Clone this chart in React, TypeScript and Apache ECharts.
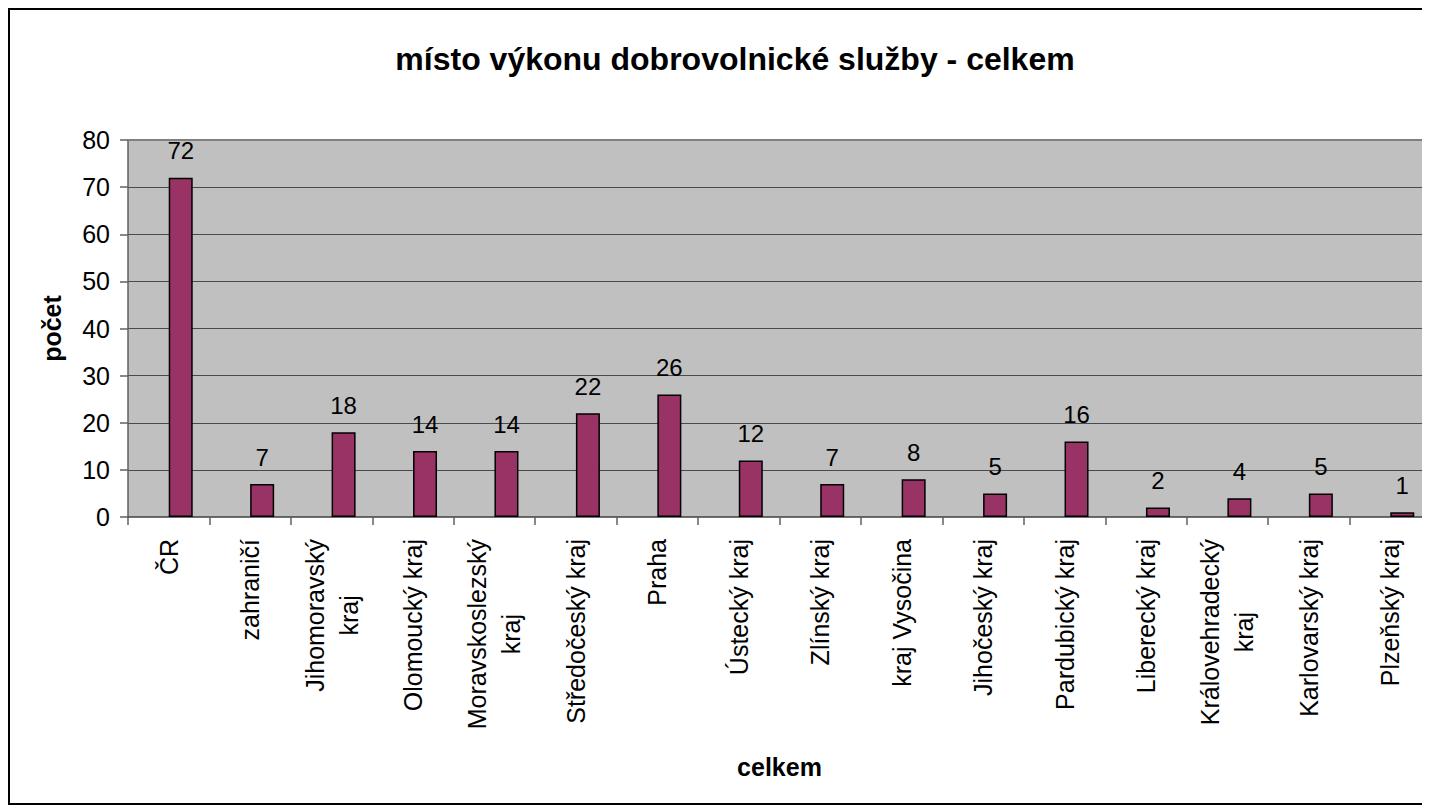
import React, { useEffect, useRef } from "react";
import * as echarts from "echarts";

const title = "místo výkonu dobrovolnické služby - celkem";
const yAxisName = "počet";
const xAxisName = "celkem";
const categories = [
  "ČR",
  "zahraničí",
  "Jihomoravský\nkraj",
  "Olomoucký kraj",
  "Moravskoslezský\nkraj",
  "Středočeský kraj",
  "Praha",
  "Ústecký kraj",
  "Zlínský kraj",
  "kraj Vysočina",
  "Jihočeský kraj",
  "Pardubický kraj",
  "Liberecký kraj",
  "Královehradecký\nkraj",
  "Karlovarský kraj",
  "Plzeňský kraj",
];
const emptyValues: (number | null)[] = categories.map(() => null);
const values = [72, 7, 18, 14, 14, 22, 26, 12, 7, 8, 5, 16, 2, 4, 5, 1];

const FONT = "'Liberation Sans', Arial, sans-serif";

if (typeof document !== "undefined") {
  document.documentElement.style.overflow = "hidden";
  document.body.style.overflow = "hidden";
}

export default function App() {
  const ref = useRef<HTMLDivElement>(null);
  useEffect(() => {
    const chart = echarts.init(ref.current!, null, { renderer: "svg" });
    chart.setOption({
      animation: false,
      textStyle: { fontFamily: FONT },
      title: {
        text: title,
        left: 722,
        top: 30,
        textAlign: "center",
        textStyle: { fontFamily: FONT, fontSize: 32, fontWeight: "bold", color: "#000" },
      },
      graphic: [
        {
          type: "polyline",
          shape: { points: [[1700, 1], [1, 1], [1, 796], [1700, 796]] },
          style: { fill: "none", stroke: "#000", lineWidth: 2 },
          silent: true,
          z: 100,
        },
        {
          type: "line",
          shape: { x1: 120, y1: 132, x2: 1700, y2: 132 },
          style: { stroke: "#808080", lineWidth: 2 },
          silent: true,
          z: 5,
        },
      ],
      grid: {
        left: 120,
        top: 132,
        width: 1303,
        height: 377,
        show: true,
        backgroundColor: "#c0c0c0",
        borderWidth: 0,
      },
      xAxis: {
        type: "category",
        data: categories,
        name: xAxisName,
        nameLocation: "middle",
        nameGap: 237,
        nameTextStyle: { fontFamily: FONT, fontSize: 25, fontWeight: "bold", color: "#000" },
        axisLine: { show: true, lineStyle: { color: "#404040", width: 1.5 } },
        axisTick: { show: true, length: 8, alignWithLabel: false, lineStyle: { color: "#606060", width: 1.5 } },
        axisLabel: {
          interval: 0,
          rotate: 90,
          margin: 22,
          color: "#000",
          fontFamily: FONT,
          fontSize: 25,
          formatter: (v: string) => v.split("\n").map((l) => `{c|${l}}`).join("\n"),
          rich: {
            c: { align: "center", fontFamily: FONT, fontSize: 25, color: "#000", lineHeight: 34 },
          },
        },
        splitLine: { show: false },
      },
      yAxis: {
        type: "value",
        min: 0,
        max: 80,
        interval: 10,
        name: yAxisName,
        nameLocation: "middle",
        nameGap: 64,
        nameTextStyle: { fontFamily: FONT, fontSize: 25, fontWeight: "bold", color: "#000" },
        axisLine: { show: true, lineStyle: { color: "#606060", width: 1.5 } },
        axisTick: { show: true, length: 8, lineStyle: { color: "#606060", width: 1.5 } },
        axisLabel: { margin: 18, color: "#000", fontFamily: FONT, fontSize: 25 },
        splitLine: { show: true, showMinLine: false, showMaxLine: false, lineStyle: { color: "#4a4a4a", width: 1 } },
      },
      series: [
        {
          type: "bar",
          data: emptyValues,
          barWidth: 24,
          barGap: "0%",
          itemStyle: { color: "#9999ff" },
        },
        {
          type: "bar",
          data: values,
          barWidth: 24,
          barGap: "0%",
          itemStyle: { color: "#993366", borderColor: "#000", borderWidth: 1.5 },
          label: {
            show: true,
            position: "top",
            distance: 15,
            color: "#000",
            fontFamily: FONT,
            fontSize: 24,
          },
        },
      ],
    });
    return () => chart.dispose();
  }, []);
  return <div ref={ref} style={{ width: 1440, height: 797 }} />;
}
